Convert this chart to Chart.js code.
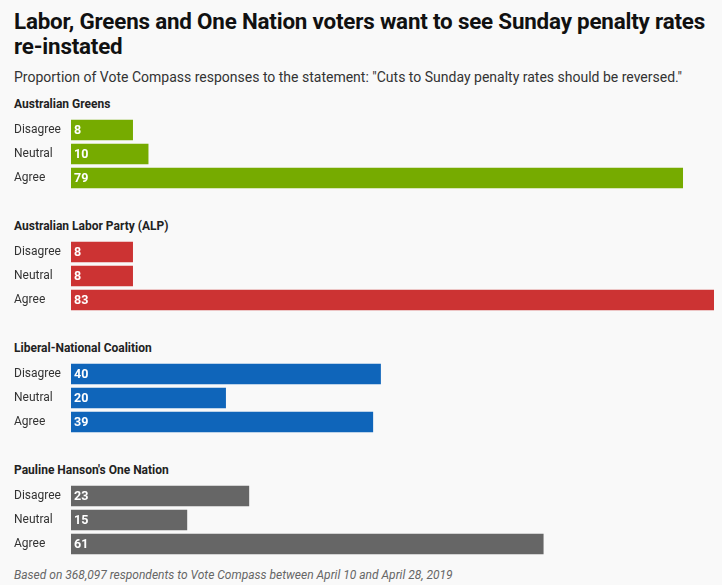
<!DOCTYPE html>
<html>
<head>
<meta charset="utf-8">
<script src="https://cdn.jsdelivr.net/npm/chart.js@4.4.1/dist/chart.umd.min.js"></script>
<style>
  body { margin: 0; background: #f9f9f9; font-family: Roboto, "Noto Sans", sans-serif; color: #111; }
  .wrap { padding: 9px 8px 0 14px; width: 700px; }
  h1 { font-size: 22.4px; line-height: 25px; font-weight: 700; margin: 0; letter-spacing: -0.2px; }
  .sub { font-size: 14px; color: #333; margin: 9px 0 0 0; line-height: 18px; }
  .party { font-size: 12px; font-weight: 700; color: #222; margin: 0 0 6px 0; line-height: 16px; height: 16px; }
  .box { position: relative; width: 700px; height: 72px; }
  .foot { font-size: 12px; font-style: italic; color: #666; margin-top: 12px; }
</style>
</head>
<body>
<div class="wrap">
  <h1>Labor, Greens and One Nation voters want to see Sunday penalty rates re-instated</h1>
  <p class="sub">Proportion of Vote Compass responses to the statement: "Cuts to Sunday penalty rates should be reversed."</p>
  <div id="groups"></div>
  <div class="foot">Based on 368,097 respondents to Vote Compass between April 10 and April 28, 2019</div>
</div>
<script>
// Dữ liệu
var responses = ['Disagree', 'Neutral', 'Agree'];
var parties = ['Australian Greens', 'Australian Labor Party (ALP)', 'Liberal-National Coalition', "Pauline Hanson's One Nation"];
var greens = [8, 10, 79];
var labor = [8, 8, 83];
var coalition = [40, 20, 39];
var oneNation = [23, 15, 61];
var partyColors = ['#76ab00', '#cc3333', '#0f65ba', '#666666'];

var allValues = [greens, labor, coalition, oneNation];
var xMax = 83;

// Plugin vẽ số trong thanh
var valueLabels = {
    id: 'valueLabels',
    afterDatasetsDraw: function (chart) {
        var ctx = chart.ctx;
        var meta = chart.getDatasetMeta(0);
        ctx.save();
        ctx.fillStyle = '#ffffff';
        ctx.font = 'bold 12.5px Roboto, sans-serif';
        ctx.textBaseline = 'middle';
        ctx.textAlign = 'left';
        meta.data.forEach(function (bar, i) {
            ctx.fillText(chart.data.datasets[0].data[i], bar.base + 3, bar.y + 1);
        });
        ctx.restore();
    }
};

var groups = document.getElementById('groups');
var topGaps = [10, 28, 28, 28];

parties.forEach(function (name, idx) {
    var title = document.createElement('p');
    title.className = 'party';
    title.style.marginTop = topGaps[idx] + 'px';
    title.textContent = name;
    groups.appendChild(title);

    var box = document.createElement('div');
    box.className = 'box';
    var canvas = document.createElement('canvas');
    box.appendChild(canvas);
    groups.appendChild(box);

    new Chart(canvas.getContext('2d'), {
        type: 'bar',
        data: {
            labels: responses,
            datasets: [{
                data: allValues[idx],
                backgroundColor: partyColors[idx],
                borderWidth: 0,
                categoryPercentage: 1,
                barPercentage: 0.85
            }]
        },
        options: {
            indexAxis: 'y',
            responsive: true,
            maintainAspectRatio: false,
            animation: false,
            layout: { padding: 0 },
            plugins: {
                legend: { display: false },
                tooltip: { enabled: false }
            },
            scales: {
                x: {
                    min: 0,
                    max: xMax,
                    display: false
                },
                y: {
                    grid: { display: false },
                    border: { display: false },
                    afterFit: function (scale) {
                        scale.width = 57;
                        scale.paddingTop = 0;
                        scale.paddingBottom = 0;
                    },
                    ticks: {
                        crossAlign: 'far',
                        padding: 0,
                        color: '#333',
                        font: { family: 'Roboto, sans-serif', size: 12 }
                    }
                }
            }
        },
        plugins: [valueLabels]
    });
});
</script>
</body>
</html>
